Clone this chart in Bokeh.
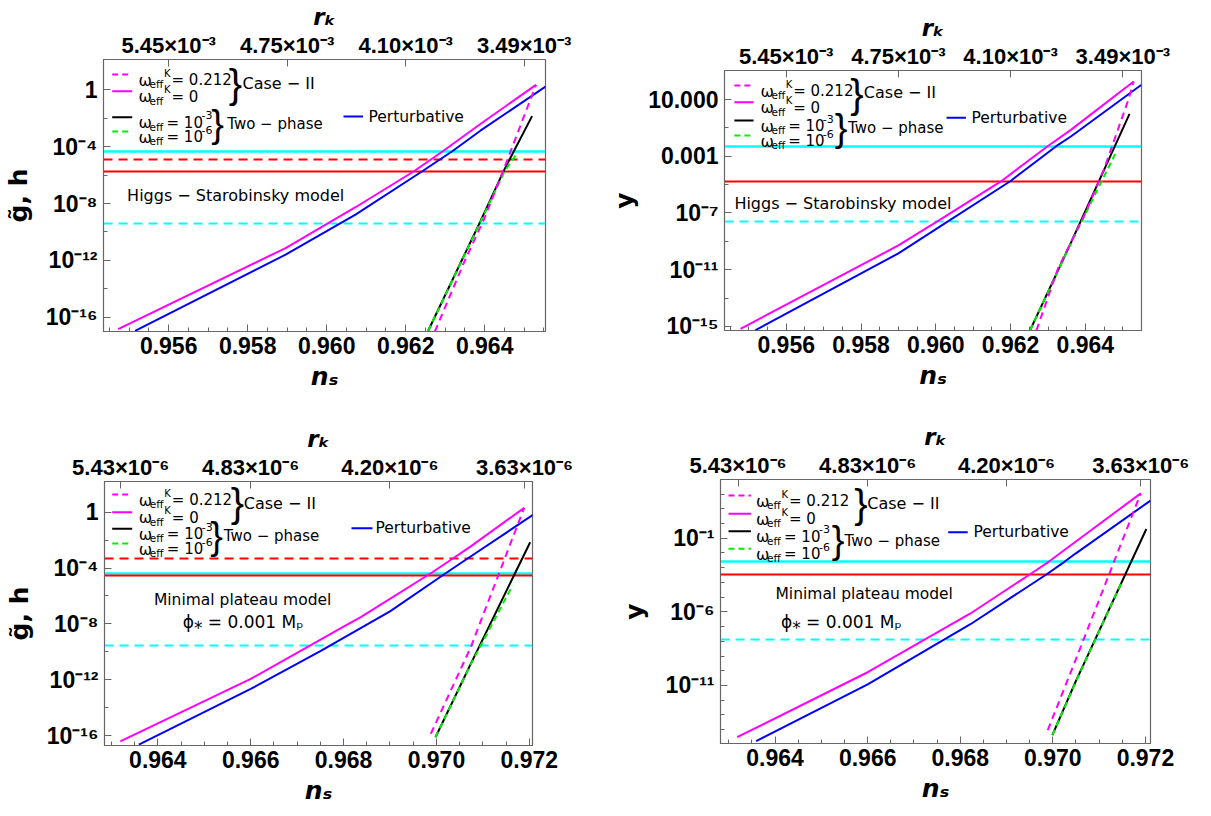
from bokeh.plotting import figure
from bokeh.models import Range1d, LinearAxis, FixedTicker, Label
from bokeh.layouts import column, row
from bokeh.embed import file_html
from bokeh.resources import INLINE

# ===================== DATA (y given as log10) =====================
# ---- Panel A : Higgs-Starobinsky model, quantity g~,h ----
A_c2w0_ns = [0.95472, 0.95896, 0.96073, 0.96221, 0.96294, 0.96390, 0.96530]
A_c2w0_lg = [-16.83, -11.13, -8.26, -5.73, -4.32, -2.39, 0.35]
A_c2w212_ns = [0.96274, 0.96350, 0.96400, 0.96447, 0.96515, 0.96530]
A_c2w212_lg = [-17.0, -12.0, -9.0, -5.68, -0.75, 0.35]
A_tp3_ns = [0.96257, 0.96390, 0.96450, 0.96520]
A_tp3_lg = [-16.95, -9.20, -5.60, -1.85]
A_tp6_ns = [0.96257, 0.96390, 0.96450, 0.96480]
A_tp6_lg = [-16.95, -9.25, -5.75, -4.55]
A_pert_ns = [0.95515, 0.95896, 0.96073, 0.96242, 0.96318, 0.96390, 0.96554]
A_pert_lg = [-16.95, -11.60, -8.78, -5.73, -4.32, -2.86, 0.23]
A_cyan_solid, A_cyan_dash, A_red_solid, A_red_dash = -4.32, -9.40, -5.73, -4.90

# ---- Panel B : Higgs-Starobinsky model, quantity y ----
B_c2w0_ns = [0.95478, 0.95900, 0.96018, 0.96175, 0.96299, 0.96362, 0.96529]
B_c2w0_lg = [-15.17, -9.29, -7.37, -4.76, -2.29, -1.12, 2.27]
B_c2w212_ns = [0.96269, 0.96327, 0.96400, 0.96450, 0.96515, 0.96529]
B_c2w212_lg = [-15.28, -10.9, -7.0, -3.9, 1.0, 2.27]
B_tp3_ns = [0.96252, 0.96362, 0.96518]
B_tp3_lg = [-15.28, -9.06, -0.01]
B_tp6_ns = [0.96252, 0.96362, 0.96482]
B_tp6_lg = [-15.28, -9.10, -2.71]
B_pert_ns = [0.95517, 0.95900, 0.96018, 0.96199, 0.96322, 0.96362, 0.96549]
B_pert_lg = [-15.28, -9.85, -7.84, -4.76, -2.29, -1.59, 2.03]
B_cyan_solid, B_cyan_dash, B_red_solid = -2.29, -7.60, -4.76

# ---- Panel C : Minimal plateau model, quantity g~,h ----
C_c2w0_ns = [0.96319, 0.96600, 0.96800, 0.96837, 0.96988, 0.97025, 0.97074, 0.97189]
C_c2w0_lg = [-16.41, -11.94, -8.20, -7.52, -4.37, -3.55, -2.45, 0.31]
C_c2w212_ns = [0.96988, 0.97074, 0.97189]
C_c2w212_lg = [-15.87, -9.67, 0.31]
C_tp3_ns = [0.96998, 0.97074, 0.97202]
C_tp3_lg = [-16.12, -10.86, -2.15]
C_tp6_ns = [0.96998, 0.97074, 0.97164]
C_tp6_lg = [-16.12, -10.90, -5.25]
C_pert_ns = [0.96359, 0.96600, 0.96750, 0.96900, 0.97020, 0.97068, 0.97208]
C_pert_lg = [-16.64, -12.66, -9.95, -7.10, -4.37, -3.30, -0.19]
C_cyan_solid, C_cyan_dash, C_red_solid, C_red_dash = -4.38, -9.52, -4.55, -3.35

# ---- Panel D : Minimal plateau model, quantity y ----
D_c2w0_ns = [0.96318, 0.96600, 0.96822, 0.96950, 0.96991, 0.97049, 0.97190]
D_c2w0_lg = [-14.51, -10.10, -6.11, -3.46, -2.60, -1.24, 2.05]
D_c2w212_ns = [0.96989, 0.97049, 0.97190]
D_c2w212_lg = [-14.03, -9.28, 2.05]
D_tp3_ns = [0.96999, 0.97049, 0.97202]
D_tp3_lg = [-14.37, -10.75, -0.37]
D_tp6_ns = [0.96999, 0.97049, 0.97149]
D_tp6_lg = [-14.37, -10.80, -3.95]
D_pert_ns = [0.96359, 0.96600, 0.96822, 0.96986, 0.97025, 0.97049, 0.97211]
D_pert_lg = [-14.78, -10.93, -6.84, -3.46, -2.60, -2.04, 1.56]
D_cyan_solid, D_cyan_dash, D_red_solid = -2.60, -7.86, -3.46

# ---- axis ticks / labels ----
ns_ticks_top = [0.956, 0.958, 0.960, 0.962, 0.964]
ns_ticks_bot = [0.964, 0.966, 0.968, 0.970, 0.972]
rk_pos_top = [0.956, 0.959, 0.962, 0.965]
rk_lab_top = ["5.45×10⁻³", "4.75×10⁻³", "4.10×10⁻³", "3.49×10⁻³"]
rk_pos_bot = [0.9632, 0.966, 0.969, 0.9719]
rk_lab_bot = ["5.43×10⁻⁶", "4.83×10⁻⁶", "4.20×10⁻⁶", "3.63×10⁻⁶"]
yA_ticks = [0, -4, -8, -12, -16]
yA_labels = ["1", "10⁻⁴", "10⁻⁸", "10⁻¹²", "10⁻¹⁶"]
yB_ticks = [1, -3, -7, -11, -15]
yB_labels = ["10.000", "0.001", "10⁻⁷", "10⁻¹¹", "10⁻¹⁵"]
yD_ticks = [-1, -6, -11]
yD_labels = ["10⁻¹", "10⁻⁶", "10⁻¹¹"]

# ===================== STYLE =====================
MAG, BLUE, GREEN, CYAN, RED = "#ff00ff", "#0000ff", "#00ee00", "#00ffff", "#ff0000"
TICKFONT = "Liberation Sans"
TXTFONT = "DejaVu Sans"
FRAME = "#666666"


def pw(v):
    return [10.0 ** a for a in v]


def make_panel(xr, ylr, W, H, borders, xt, yt, ylab, ymin, top_pos, top_lab, ylabel, ystand):
    left, right, top, bottom = borders
    p = figure(width=left + W + right, height=top + H + bottom,
               x_range=Range1d(*xr), y_range=Range1d(10 ** ylr[0], 10 ** ylr[1]),
               y_axis_type="log", output_backend="svg", toolbar_location=None,
               min_border_left=left, min_border_right=right,
               min_border_top=top, min_border_bottom=bottom, frame_align=False)
    p.xgrid.visible = False
    p.ygrid.visible = False
    p.outline_line_color = FRAME
    p.outline_line_width = 1.2
    p.background_fill_color = "white"
    p.border_fill_color = "white"
    xminor = []
    k = xt[0] - 0.002
    while k < xt[-1] + 0.0021:
        for j in range(1, 4):
            xminor.append(round(k + j * 0.0005, 5))
        k += 0.002
    p.xaxis.ticker = FixedTicker(ticks=xt, minor_ticks=xminor)
    p.xaxis.major_label_overrides = {t: "%.3f" % t for t in xt}
    p.xaxis.axis_label = "nₛ"
    p.yaxis.ticker = FixedTicker(ticks=[10.0 ** t for t in yt], minor_ticks=[10.0 ** t for t in ymin])
    p.yaxis.major_label_overrides = {10.0 ** t: l for t, l in zip(yt, ylab)}
    p.yaxis.axis_label = ylabel
    ax_top = LinearAxis(ticker=FixedTicker(ticks=top_pos, minor_ticks=[]),
                        major_label_overrides={t: l for t, l in zip(top_pos, top_lab)},
                        axis_label="rₖ")
    p.add_layout(ax_top, "above")
    for ax in p.axis:
        ax.axis_line_color = FRAME
        ax.major_tick_line_color = FRAME
        ax.minor_tick_line_color = FRAME
        ax.major_tick_in = 7
        ax.major_tick_out = 0
        ax.minor_tick_in = 4
        ax.minor_tick_out = 0
        ax.major_label_text_font = TICKFONT
        ax.major_label_text_font_style = "bold"
        ax.major_label_text_font_size = "23px"
        ax.major_label_text_color = "black"
        ax.axis_label_text_font = TXTFONT
        ax.axis_label_text_font_style = "bold italic"
        ax.axis_label_text_font_size = "25px"
        ax.axis_label_text_color = "black"
    p.xaxis[0].major_label_standoff = 4
    p.xaxis[0].axis_label_standoff = 31
    ax_top.major_label_text_font_size = "22px"
    ax_top.axis_label_text_font_size = "23px"
    ax_top.major_label_standoff = 2
    ax_top.axis_label_standoff = 0
    p.yaxis.major_label_standoff = 6
    p.yaxis.axis_label_standoff = ystand
    p.yaxis.axis_label_text_font_style = "bold"
    return p


def conv_factory(xr, ylr, W, H):
    def conv(fx, fy):
        x = xr[0] + fx / W * (xr[1] - xr[0])
        ly = ylr[1] - fy / H * (ylr[1] - ylr[0])
        return x, 10.0 ** ly
    return conv


def lab(p, conv, fx, fy, text, size, style="normal", align="left", baseline="alphabetic", font=TXTFONT):
    x, y = conv(fx, fy)
    p.add_layout(Label(x=x, y=y, text=text, text_font=font, text_font_size="%.1fpx" % size,
                       text_font_style=style, text_align=align, text_baseline=baseline,
                       text_color="black"))


def swatch(p, conv, x0, x1, fy, color, dash):
    xa, y = conv(x0, fy)
    xb, _ = conv(x1, fy)
    p.line([xa, xb], [y, y], line_color=color, line_width=2, line_dash=dash)


def omega(p, conv, fx, fy, sup, rest, sup2=None):
    b = fy + 5.5
    lab(p, conv, fx, b, "ω", 16)
    lab(p, conv, fx + 11, b + 4, "eff", 10.5)
    if sup:
        lab(p, conv, fx + 25.5, b - 7, sup, 10)
        lab(p, conv, fx + 33, b, rest, 15)
    else:
        lab(p, conv, fx + 28, b, rest, 15)
        lab(p, conv, fx + 63, b - 7.5, sup2, 11)


def legend(p, conv, L):
    (lx0, lx1) = L["line_x"]
    r = L["rows"]
    tx = L["text_x"]
    swatch(p, conv, lx0, lx1, r[0], MAG, "6 4")
    swatch(p, conv, lx0, lx1, r[1], MAG, "solid")
    swatch(p, conv, lx0, lx1, r[2], "black", "solid")
    swatch(p, conv, lx0, lx1, r[3], GREEN, "6 4")
    omega(p, conv, tx, r[0], "K", "= 0.212")
    omega(p, conv, tx, r[1], "K", "= 0")
    omega(p, conv, tx, r[2], None, "= 10", "-3")
    omega(p, conv, tx, r[3], None, "= 10", "-6")
    bx, by = L["brace1"]
    lab(p, conv, bx, by, "}", 40, align="center", baseline="middle", font="Liberation Sans")
    cx, cy = L["case"]
    lab(p, conv, cx, cy, "Case − II", 16, baseline="middle")
    bx, by = L["brace2"]
    lab(p, conv, bx, by, "}", 38, align="center", baseline="middle", font="Liberation Sans")
    cx, cy = L["two"]
    lab(p, conv, cx, cy, "Two − phase", 15, baseline="middle")
    px0, px1, py = L["pert_line"]
    swatch(p, conv, px0, px1, py, BLUE, "solid")
    tx2, ty2 = L["pert_txt"]
    lab(p, conv, tx2, ty2, "Perturbative", 15.5, baseline="middle")


def curves(p, d):
    p.line(d["c2w0"][0], pw(d["c2w0"][1]), line_color=MAG, line_width=2)
    p.line(d["pert"][0], pw(d["pert"][1]), line_color=BLUE, line_width=2)
    p.line(d["tp3"][0], pw(d["tp3"][1]), line_color="black", line_width=2)
    p.line(d["tp6"][0], pw(d["tp6"][1]), line_color=GREEN, line_width=2, line_dash="6 4")
    p.line(d["c2w212"][0], pw(d["c2w212"][1]), line_color=MAG, line_width=2, line_dash="7 5")


def hlines(p, cs, cd, rs, rd=None):
    p.hspan(y=[10.0 ** cs], line_color=CYAN, line_width=2.5)
    p.hspan(y=[10.0 ** cd], line_color=CYAN, line_width=2, line_dash="9 6")
    p.hspan(y=[10.0 ** rs], line_color=RED, line_width=2)
    if rd is not None:
        p.hspan(y=[10.0 ** rd], line_color=RED, line_width=2, line_dash="9 6")


# ===================== PANEL A =====================
xrA, ylrA, WA, HA = (0.95435, 0.96554), (-17.0, 2.13), 442, 272
pA = make_panel(xrA, ylrA, WA, HA, (103, 62, 59, 75), ns_ticks_top, yA_ticks, yA_labels,
                [-2, -6, -10, -14], rk_pos_top, rk_lab_top, "g̃, h", 10)
hlines(pA, A_cyan_solid, A_cyan_dash, A_red_solid, A_red_dash)
curves(pA, dict(c2w0=(A_c2w0_ns, A_c2w0_lg), pert=(A_pert_ns, A_pert_lg), tp3=(A_tp3_ns, A_tp3_lg),
                tp6=(A_tp6_ns, A_tp6_lg), c2w212=(A_c2w212_ns, A_c2w212_lg)))
cA = conv_factory(xrA, ylrA, WA, HA)
legend(pA, cA, dict(line_x=(8.7, 28.7), rows=[15, 31.7, 57.7, 72], text_x=35, brace1=(132, 24),
                    case=(139, 24), brace2=(114, 64), two=(123.7, 64), pert_line=(240, 259.5, 57),
                    pert_txt=(265, 57)))
lab(pA, cA, 23.6, 136, "Higgs − Starobinsky model", 16, baseline="middle")

# ===================== PANEL B =====================
xrB, ylrB, WB, HB = (0.95435, 0.9655), (-15.29, 3.05), 422, 260
pB = make_panel(xrB, ylrB, WB, HB, (112, 70, 70, 76), ns_ticks_top, yB_ticks, yB_labels,
                [-1, -5, -9, -13], rk_pos_top, rk_lab_top, "y", 6)
hlines(pB, B_cyan_solid, B_cyan_dash, B_red_solid)
curves(pB, dict(c2w0=(B_c2w0_ns, B_c2w0_lg), pert=(B_pert_ns, B_pert_lg), tp3=(B_tp3_ns, B_tp3_lg),
                tp6=(B_tp6_ns, B_tp6_lg), c2w212=(B_c2w212_ns, B_c2w212_lg)))
cB = conv_factory(xrB, ylrB, WB, HB)
legend(pB, cB, dict(line_x=(10, 29.4), rows=[15, 31.7, 50, 65], text_x=36.5, brace1=(134, 23.3),
                    case=(141, 22), brace2=(118, 57), two=(125, 57), pert_line=(224.75, 244.3, 47.3),
                    pert_txt=(250, 47.3)))
lab(pB, cB, 10, 133, "Higgs − Starobinsky model", 16, baseline="middle")

# ===================== PANEL C =====================
xrC, ylrC, WC, HC = (0.96285, 0.97207), (-16.71, 2.2), 428, 264
pC = make_panel(xrC, ylrC, WC, HC, (104, 75, 75, 71), ns_ticks_bot, yA_ticks, yA_labels,
                [-2, -6, -10, -14], rk_pos_bot, rk_lab_bot, "g̃, h", 10)
hlines(pC, C_cyan_solid, C_cyan_dash, C_red_solid, C_red_dash)
curves(pC, dict(c2w0=(C_c2w0_ns, C_c2w0_lg), pert=(C_pert_ns, C_pert_lg), tp3=(C_tp3_ns, C_tp3_lg),
                tp6=(C_tp6_ns, C_tp6_lg), c2w212=(C_c2w212_ns, C_c2w212_lg)))
cC = conv_factory(xrC, ylrC, WC, HC)
legend(pC, cC, dict(line_x=(7.7, 27.7), rows=[13, 30.7, 47.3, 62], text_x=34.3, brace1=(133, 21),
                    case=(139.3, 21.7), brace2=(112, 54), two=(119.3, 54), pert_line=(247, 268, 46.7),
                    pert_txt=(271, 46.7)))
lab(pC, cC, 49.4, 118, "Minimal plateau model", 15.5, baseline="middle")
lab(pC, cC, 78.2, 140.7, "ϕ⁎ = 0.001 Mₚ", 17, baseline="middle")

# ===================== PANEL D =====================
xrD, ylrD, WD, HD = (0.96282, 0.97211), (-14.94, 2.99), 430, 264
pD = make_panel(xrD, ylrD, WD, HD, (113, 61, 73, 73), ns_ticks_bot, yD_ticks, yD_labels,
                [2, 1, 0, -2, -3, -4, -5, -7, -8, -9, -10, -12, -13, -14], rk_pos_bot, rk_lab_bot, "y", 14)
hlines(pD, D_cyan_solid, D_cyan_dash, D_red_solid)
curves(pD, dict(c2w0=(D_c2w0_ns, D_c2w0_lg), pert=(D_pert_ns, D_pert_lg), tp3=(D_tp3_ns, D_tp3_lg),
                tp6=(D_tp6_ns, D_tp6_lg), c2w212=(D_c2w212_ns, D_c2w212_lg)))
cD = conv_factory(xrD, ylrD, WD, HD)
legend(pD, cD, dict(line_x=(8, 30.4), rows=[16, 34.3, 51.7, 69.3], text_x=35.5, brace1=(140.5, 24.3),
                    case=(146.8, 23.7), brace2=(117.5, 60.3), two=(124.1, 61.7), pert_line=(227.7, 247.2, 52.7),
                    pert_txt=(253, 52.7)))
lab(pD, cD, 55, 114.3, "Minimal plateau model", 15.5, baseline="middle")
lab(pD, cD, 60.5, 142.7, "ϕ⁎ = 0.001 Mₚ", 17, baseline="middle")

layout = column(row(pA, pB), row(pC, pD))
open("out.html", "w").write(file_html(layout, INLINE))
